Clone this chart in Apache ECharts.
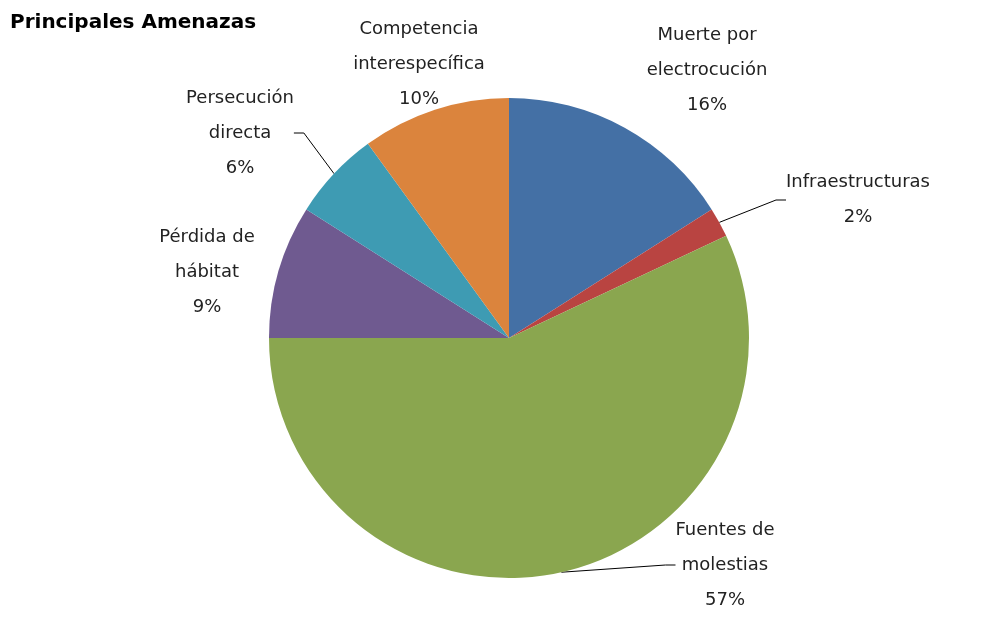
<!DOCTYPE html>
<html>
<head>
<meta charset="utf-8">
<script src="https://cdn.jsdelivr.net/npm/echarts@6/dist/echarts.min.js"></script>
<style>html,body{margin:0;padding:0;background:#fff}#main{width:1000px;height:629px}</style>
</head>
<body>
<div id="main"></div>
<script>
var names = ['Muerte por\nelectrocución', 'Infraestructuras', 'Fuentes de\nmolestias', 'Pérdida de\nhábitat', 'Persecución\ndirecta', 'Competencia\ninterespecífica'];
var values = [16, 2, 57, 9, 6, 10];
var colors = ['#4470a5', '#b94441', '#8aa64f', '#6f5a90', '#3e9bb3', '#db843d'];
// label centres, Excel style placement
var labelPos = [[707, 70], [858, 200], [725, 565], [207, 272], [240, 133], [419, 64]];
var showLine = [false, true, true, false, true, false];

var pieData = [];
for (var i = 0; i < names.length; i++) {
    pieData.push({
        name: names[i], value: values[i],
        itemStyle: {color: colors[i]},
        labelLine: {show: showLine[i]}
    });
}

var options = {
    animation: false,
    title: {
        text: 'Principales Amenazas', left: 5, top: 8,
        textStyle: {fontFamily: 'DejaVu Sans', fontSize: 20, fontWeight: 'bold', color: '#000'}
    },
    series: [{
        type: 'pie',
        center: [509, 338],
        radius: 240,
        startAngle: 90,
        data: pieData,
        label: {
            formatter: '{b}\n{c}%',
            fontFamily: 'DejaVu Sans',
            fontSize: 18,
            lineHeight: 35,
            color: '#222',
            align: 'center'
        },
        labelLine: {lineStyle: {color: '#000', width: 1}, length: 10, length2: 10},
        labelLayout: function (p) {
            var pos = labelPos[p.dataIndex];
            return {x: pos[0], y: pos[1], align: 'center', verticalAlign: 'middle'};
        }
    }]
};
var myChart = echarts.init(document.getElementById('main'));
myChart.setOption(options);
</script>
</body>
</html>
